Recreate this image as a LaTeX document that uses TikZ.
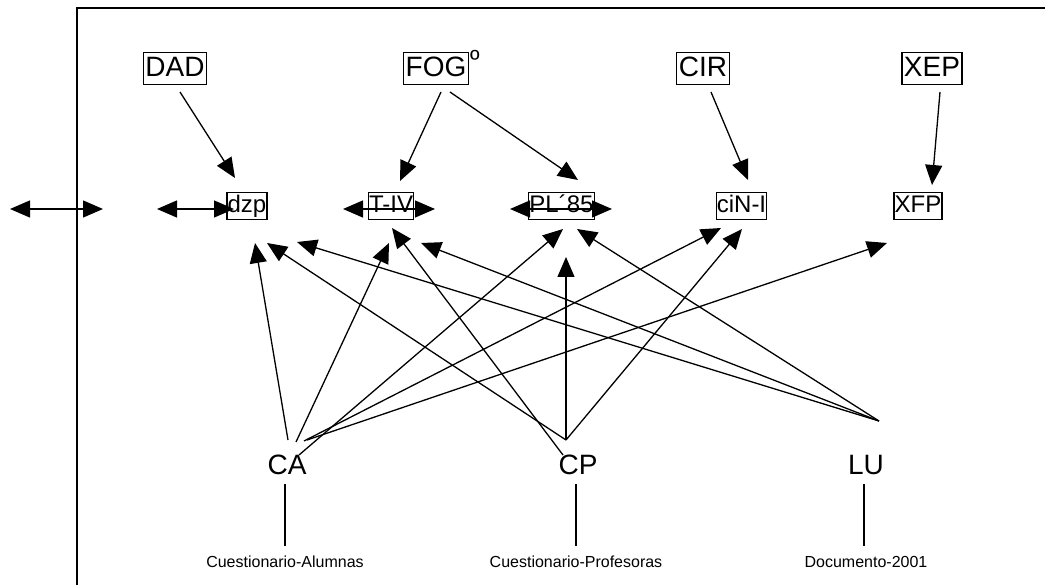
\documentclass[tikz,border=0pt]{standalone}
\usepackage{fontspec}
\setmainfont{Liberation Sans}
\usetikzlibrary{arrows.meta}
\begin{document}
\begin{tikzpicture}[x=1pt,y=-1pt,
  topbox/.style={draw, line width=1.2pt, inner xsep=2pt, inner ysep=3pt,
    text height=21pt, text depth=5.5pt, font=\fontsize{28}{30}\selectfont},
  midbox/.style={draw, line width=1.2pt, inner xsep=0.7pt, inner ysep=2pt,
    text height=18pt, text depth=5pt, font=\fontsize{24}{26}\selectfont},
  src/.style={inner sep=0pt, font=\fontsize{28}{30}\selectfont},
  doc/.style={inner sep=0pt, font=\fontsize{16}{18}\selectfont},
  link/.style={line width=1.3pt, -{Triangle[length=20pt,width=17pt]}},
  both/.style={line width=1.3pt, {Triangle[length=20pt,width=17pt]}-{Triangle[length=20pt,width=17pt]}},
  plain/.style={line width=1.3pt}]
\useasboundingbox (0,0) rectangle (1045,585);

% outer frame (runs off the page at right and bottom)
\draw[line width=1.3pt] (77,600) -- (77,8) -- (1060,8);

% upper row of boxes
\node[topbox] (dad) at (175,68.5) {DAD};
\node[topbox] (fog) at (436,68.5) {FOG};
\node[inner sep=0pt, font=\fontsize{26}{28}\selectfont, anchor=north west] (ord) at ([xshift=1pt,yshift=2pt]fog.north east) {º};
\node[topbox] (cir) at (703,68.5) {CIR};
\node[topbox] (xep) at (932,68.5) {XEP};

% middle row of boxes
\node[midbox] (dzp) at (247,206) {dzp};
\node[midbox] (tiv) at (391,206) {T-IV};
\node[midbox] (pl)  at (561.5,206) {PL´85};
\node[midbox] (cin) at (741.5,206) {ciN-I};
\node[midbox] (xfp) at (918,206) {XFP};

% sources and documents
\node[src] (ca) at (287,465) {CA};
\node[src] (cp) at (578,465) {CP};
\node[src] (lu) at (866,465) {LU};
\node[doc] (dca) at (285,562) {Cuestionario-Alumnas};
\node[doc] (dcp) at (576,562) {Cuestionario-Profesoras};
\node[doc] (dlu) at (866,562) {Documento-2001};

% free ends of the connectors
\coordinate (dadS)  at (180,92);
\coordinate (fogS1) at (441,92);
\coordinate (fogS2) at (450,92);
\coordinate (cirS)  at (711,92);
\coordinate (xepS)  at (940,92);
\coordinate (dadT)  at (235,178);
\coordinate (fogT1) at (400,181);
\coordinate (fogT2) at (578,180);
\coordinate (cirT)  at (748,180);
\coordinate (xepT)  at (932,185);

\coordinate (arA1) at (10,209);  \coordinate (arA2) at (103,209);
\coordinate (arB1) at (157,209); \coordinate (arB2) at (234,209);
\coordinate (arC1) at (343,209); \coordinate (arC2) at (435,209);
\coordinate (arD1) at (510,209); \coordinate (arD2) at (612,209);

\coordinate (caO1) at (288,440);
\coordinate (caO2) at (296,442);
\coordinate (caO3) at (299,455);
\coordinate (caO4) at (304,441);
\coordinate (caO5) at (307,440);
\coordinate (cpO)  at (566,440);
\coordinate (cpO2) at (563,455);
\coordinate (luO)  at (879,421);

\coordinate (t1) at (255,243);
\coordinate (t2) at (267,243);
\coordinate (t3) at (297,242);
\coordinate (t4) at (389,243);
\coordinate (t5) at (392,228);
\coordinate (t6) at (421,243);
\coordinate (t7) at (563,229);
\coordinate (t8) at (577,229);
\coordinate (t9) at (566,257);
\coordinate (t10) at (721,228);
\coordinate (t11) at (742,229);
\coordinate (t12) at (887,243);

\coordinate (caL1) at (285,484); \coordinate (caL2) at (285,546);
\coordinate (cpL1) at (576,484); \coordinate (cpL2) at (576,546);
\coordinate (luL1) at (864,484); \coordinate (luL2) at (864,546);

% upper arrows
\draw[link] (dadS) -- (dadT);
\draw[link] (fogS1) -- (fogT1);
\draw[link] (fogS2) -- (fogT2);
\draw[link] (cirS) -- (cirT);
\draw[link] (xepS) -- (xepT);

% horizontal double arrows
\draw[both] (arA1) -- (arA2);
\draw[both] (arB1) -- (arB2);
\draw[both] (arC1) -- (arC2);
\draw[both] (arD1) -- (arD2);

% arrows from CA
\draw[link] (caO1) -- (t1);
\draw[link] (caO2) -- (t4);
\draw[link] (caO3) -- (t7);
\draw[link] (caO4) -- (t10);
\draw[link] (caO5) -- (t12);
% arrows from CP
\draw[link] (cpO) -- (t2);
\draw[link] (cpO2) -- (t5);
\draw[link] (cpO) -- (t9);
\draw[link] (cpO) -- (t11);
% arrows from LU
\draw[link] (luO) -- (t3);
\draw[link] (luO) -- (t6);
\draw[link] (luO) -- (t8);

% stems down to the documents
\draw[plain] (caL1) -- (caL2);
\draw[plain] (cpL1) -- (cpL2);
\draw[plain] (luL1) -- (luL2);
\end{tikzpicture}
\end{document}
